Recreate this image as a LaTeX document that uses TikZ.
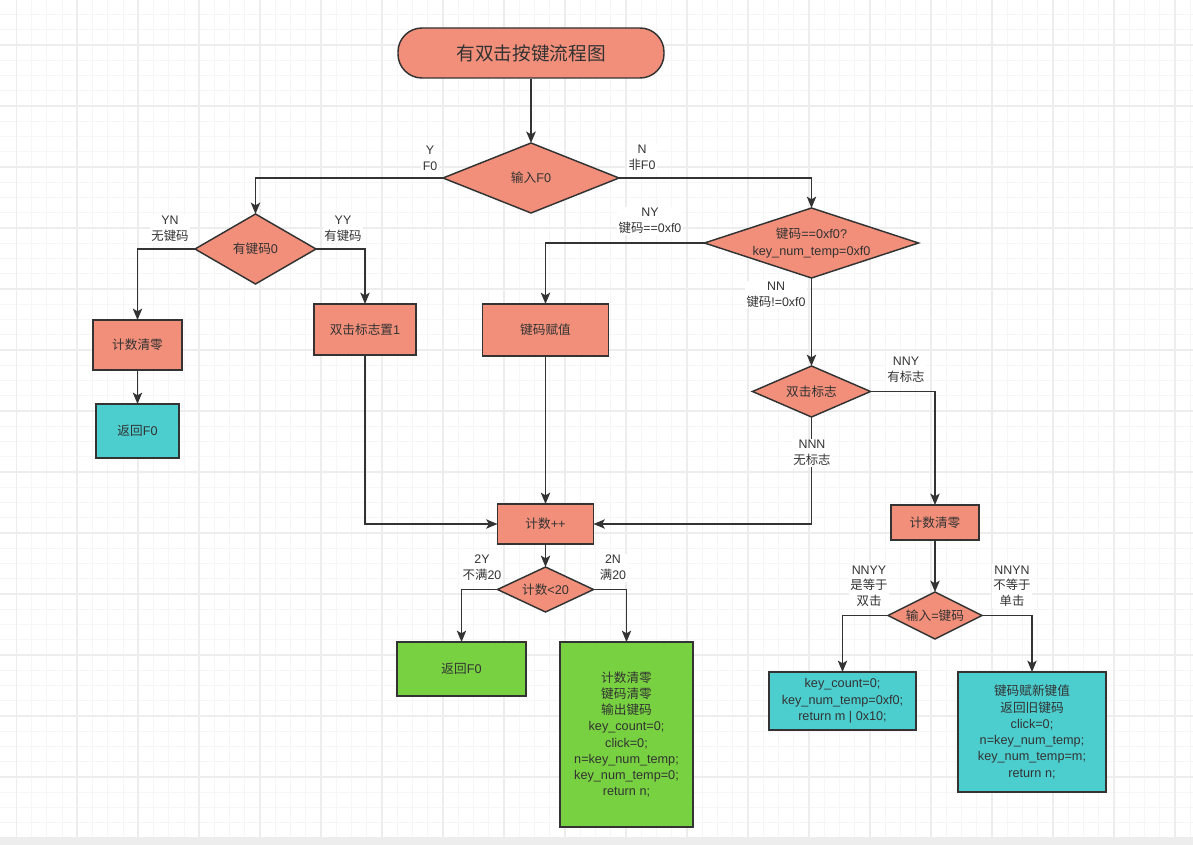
\documentclass[tikz,border=0pt]{standalone}
\usepackage{fontspec}
\setmainfont{Liberation Sans}
\newfontfamily\cjk{Noto Sans CJK SC}
\newcommand{\zh}[1]{{\cjk #1}}
\usetikzlibrary{arrows.meta,shapes.geometric}
\definecolor{salmon}{RGB}{242,143,122}
\definecolor{mycyan}{RGB}{76,205,206}
\definecolor{mygreen}{RGB}{119,209,64}
\definecolor{ln}{RGB}{51,51,51}
\definecolor{txt}{RGB}{51,51,51}
\definecolor{gminor}{RGB}{246,246,246}
\definecolor{gmajor}{RGB}{237,237,237}
\def\P{0.75pt}
\begin{document}
\begin{tikzpicture}[x=0.75pt,y=-0.75pt,
  every node/.style={text=txt},
  nfont/.style={font=\fontsize{9.5}{12.2}\selectfont},
  term/.style={draw=ln,line width=1.1pt,fill=salmon,rounded corners=18pt,font=\fontsize{14}{16}\selectfont},
  proc/.style={draw=ln,line width=1.1pt,fill=salmon,nfont,align=center,inner sep=0pt,outer sep=0pt},
  cbox/.style={draw=ln,line width=1.1pt,fill=mycyan,nfont,align=center,inner sep=0pt,outer sep=0pt},
  gbox/.style={draw=ln,line width=1.1pt,fill=mygreen,nfont,align=center,inner sep=0pt,outer sep=0pt},
  dia/.style={diamond,draw=ln,line width=1.1pt,fill=salmon,nfont,align=center,inner sep=0pt,outer sep=0pt},
  lbl/.style={fill=white,inner sep=1pt,align=center,font=\fontsize{9.3}{11.8}\selectfont},
  arr/.style={draw=ln,line width=1.1pt,-{Stealth[length=8.5pt,width=7pt,inset=2pt]}},
  gmin/.style={draw=gminor,line width=0.75pt},
  gmaj/.style={draw=gmajor,line width=1.2pt}]
\useasboundingbox (0,0) rectangle (1193,845);
\fill[white] (0,0) rectangle (1193,845);
% grid
\foreach \i in {0,...,77} {\draw[gmin] ({16.3+15.246*\i},0) -- ({16.3+15.246*\i},837);}
\foreach \j in {-2,...,51} {\draw[gmin] (0,{45+15.246*\j}) -- (1193,{45+15.246*\j});}
\foreach \i in {0,...,19} {\draw[gmaj] ({16.3+60.98*\i},0) -- ({16.3+60.98*\i},837);}
\foreach \j in {0,...,12} {\draw[gmaj] (0,{45+60.98*\j}) -- (1193,{45+60.98*\j});}
\fill[gmajor] (0,837) rectangle (1193,845);

% nodes
\node[term,minimum width=266*\P,minimum height=50*\P] (title) at (531,53) {\zh{有双击按键流程图}};
\node[dia,minimum width=176*\P,minimum height=70*\P,aspect=2.5] (d1) at (531,178) {\zh{输入}F0};
\node[dia,minimum width=121*\P,minimum height=70*\P,aspect=1.7] (d2) at (255.5,249) {\zh{有键码}0};
\node[dia,minimum width=214*\P,minimum height=70*\P,aspect=3] (d3) at (811.5,243) {\zh{键码}==0xf0?\\key\_num\_temp=0xf0};
\node[proc,minimum width=89*\P,minimum height=50*\P] (b1) at (137.5,345) {\zh{计数清零}};
\node[cbox,minimum width=83*\P,minimum height=54*\P] (b2) at (137.5,431) {\zh{返回}F0};
\node[proc,minimum width=102*\P,minimum height=51*\P] (b3) at (365,329.5) {\zh{双击标志置}1};
\node[proc,minimum width=126*\P,minimum height=52*\P] (b4) at (545.5,330) {\zh{键码赋值}};
\node[dia,minimum width=118*\P,minimum height=51*\P,aspect=2.3] (d4) at (811.5,391.5) {\zh{双击标志}};
\node[proc,minimum width=96*\P,minimum height=40*\P] (b5) at (545.5,524) {\zh{计数}++};
\node[dia,minimum width=96*\P,minimum height=45*\P,aspect=2.1] (d5) at (545.5,589.5) {\zh{计数}<20};
\node[gbox,minimum width=129*\P,minimum height=54*\P] (b6) at (461.5,669) {\zh{返回}F0};
\node[gbox,minimum width=133*\P,minimum height=185*\P] (b7) at (626.5,734.5) {\zh{计数清零}\\\zh{键码清零}\\\zh{输出键码}\\key\_count=0;\\click=0;\\n=key\_num\_temp;\\key\_num\_temp=0;\\return n;};
\node[proc,minimum width=88*\P,minimum height=35*\P] (b8) at (935,522.5) {\zh{计数清零}};
\node[dia,minimum width=94*\P,minimum height=47*\P,aspect=2] (d6) at (935,615.5) {\zh{输入}=\zh{键码}};
\node[cbox,minimum width=147*\P,minimum height=58*\P] (b9) at (842.5,701) {key\_count=0;\\key\_num\_temp=0xf0;\\return m | 0x10;};
\node[cbox,minimum width=148*\P,minimum height=120*\P] (b10) at (1032,732) {\zh{键码赋新键值}\\\zh{返回旧键码}\\click=0;\\n=key\_num\_temp;\\key\_num\_temp=m;\\return n;};

% connectors
\draw[arr,line width=1.7pt] (title) -- (d1);
\draw[arr,line width=1.4pt] (d1.west) -| (d2.north);
\draw[arr] (d1.east) -| (d3.north);
\draw[arr,line width=1.4pt] (d2.west) -| (b1.north);
\draw[arr] (b1) -- (b2);
\draw[arr] (d2.east) -| (b3.north);
\draw[arr] (d3.west) -| (b4.north);
\draw[arr] (d3.south) -- (d3.south |- d4.north);
\draw[arr] (d4.east) -| (b8.north);
\draw[arr] (d4.south) |- (b5.east);
\draw[arr] (b3.south) |- (b5.west);
\draw[arr] (b4.south) -- (b4.south |- b5.north);
\draw[arr] (b5) -- (d5);
\draw[arr] (d5.west) -| (b6.north);
\draw[arr] (d5.east) -| (b7.north);
\draw[arr] (b8) -- (d6);
\draw[arr] (d6.west) -| (b9.north);
\draw[arr] (d6.east) -| (b10.north);

% labels
\node[lbl] (lY) at (430,158) {Y\\F0};
\node[lbl] (lN) at (642,158) {N\\\zh{非}F0};
\node[lbl] (lYN) at (170,229) {YN\\\zh{无键码}};
\node[lbl] (lYY) at (343,229) {YY\\\zh{有键码}};
\node[lbl] (lNY) at (650,221) {NY\\\zh{键码}==0xf0};
\node[lbl] (lNN) at (776,294.5) {NN\\\zh{键码}!=0xf0};
\node[lbl] (lNNY) at (906,370) {NNY\\\zh{有标志}};
\node[lbl] (lNNN) at (812,453) {NNN\\\zh{无标志}};
\node[lbl] (l2Y) at (482,567.5) {2Y\\\zh{不满}20};
\node[lbl] (l2N) at (613,567.5) {2N\\\zh{满}20};
\node[lbl] (lNNYY) at (869,586) {NNYY\\\zh{是等于}\\\zh{双击}};
\node[lbl] (lNNYN) at (1012,586) {NNYN\\\zh{不等于}\\\zh{单击}};
\end{tikzpicture}
\end{document}
